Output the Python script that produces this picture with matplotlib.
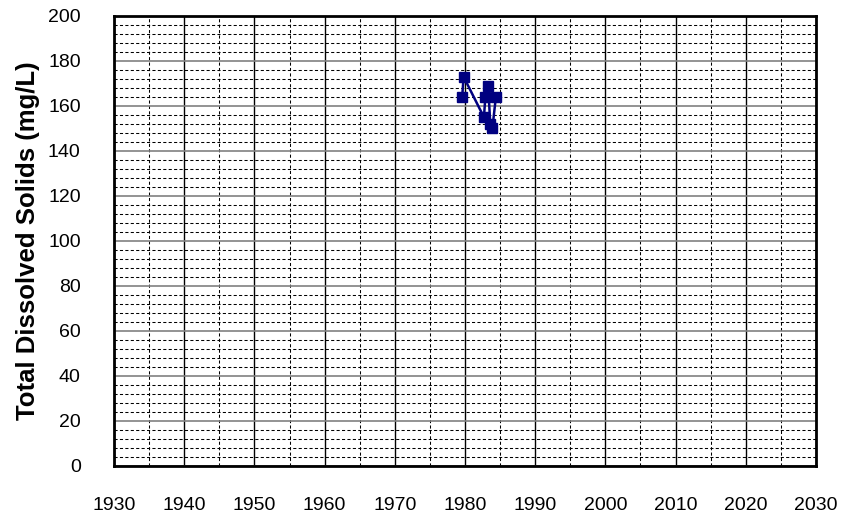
import numpy as np
import matplotlib
matplotlib.use('Agg')
import matplotlib.pyplot as plt
from matplotlib.ticker import MultipleLocator

# sample dates (decimal year) and TDS values
years = [1979.6, 1979.8, 1982.7, 1982.9, 1983.3, 1983.6, 1983.9, 1984.4]
tds = [164, 173, 155, 164, 169, 152, 150, 164]

x_ticks = list(range(1930, 2031, 10))
y_ticks = list(range(0, 201, 20))

plt.rcParams['font.family'] = ['Liberation Sans', 'DejaVu Sans']

fig = plt.figure(figsize=(8.42, 5.16), dpi=100)
ax = fig.add_axes([0.1354, 0.0969, 0.9691 - 0.1354, 0.969 - 0.0969])

ax.set_xlim(1930, 2030)
ax.set_ylim(0, 200)
ax.set_xticks(x_ticks)
ax.set_yticks(y_ticks)
ax.xaxis.set_minor_locator(MultipleLocator(5))
ax.yaxis.set_minor_locator(MultipleLocator(4))

ax.grid(which='major', axis='x', color='black', linewidth=1.0, linestyle='-')
ax.grid(which='major', axis='y', color='#808080', linewidth=1.2, linestyle='-')
ax.grid(which='minor', color='black', linewidth=0.75, linestyle=(0, (3, 2.2)))
ax.set_axisbelow(True)

ax.plot(years, tds, color='#000080', linewidth=1.8, marker='s',
        markersize=7.5, markerfacecolor='#000080', markeredgecolor='#000080')

ax.tick_params(which='both', length=0)
ax.tick_params(axis='x', pad=22, labelsize=14)
ax.tick_params(axis='y', pad=24, labelsize=14)
for s in ax.spines.values():
    s.set_linewidth(2)
    s.set_color('black')

ax.set_ylabel('Total Dissolved Solids (mg/L)', fontsize=18.5, fontweight='bold', labelpad=6)

fig.savefig('out.png', dpi=100)
